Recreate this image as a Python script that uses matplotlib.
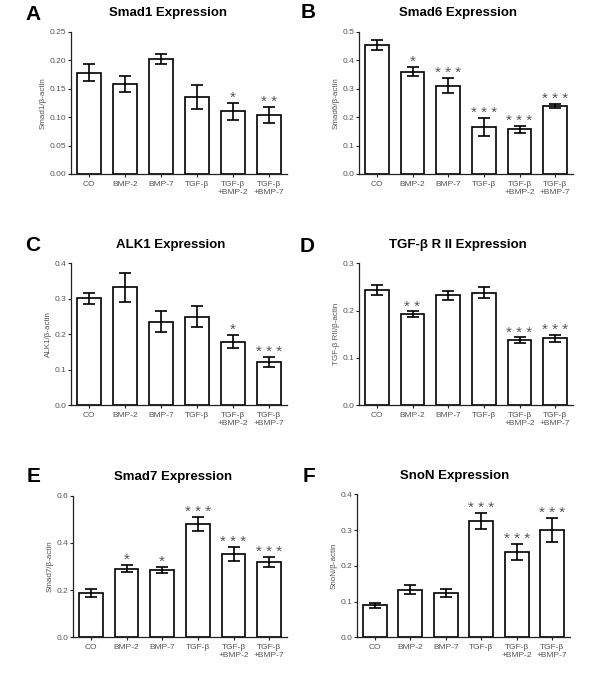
import matplotlib
matplotlib.use("Agg")
import matplotlib.pyplot as plt
import numpy as np

plt.rcParams['font.family'] = ['Liberation Sans', 'DejaVu Sans']

categories = ["CO", "BMP-2", "BMP-7", "TGF-β", "TGF-β\n+BMP-2", "TGF-β\n+BMP-7"]

smad1_mean = [0.178, 0.158, 0.202, 0.136, 0.110, 0.104]
smad1_err = [0.015, 0.014, 0.008, 0.021, 0.015, 0.014]
smad1_sig = ["", "", "", "", "*", "**"]

smad6_mean = [0.454, 0.360, 0.310, 0.165, 0.157, 0.238]
smad6_err = [0.017, 0.016, 0.026, 0.032, 0.013, 0.007]
smad6_sig = ["", "*", "***", "***", "***", "***"]

alk1_mean = [0.301, 0.332, 0.235, 0.249, 0.179, 0.122]
alk1_err = [0.015, 0.040, 0.029, 0.030, 0.019, 0.014]
alk1_sig = ["", "", "", "", "*", "***"]

tgfbr2_mean = [0.243, 0.192, 0.232, 0.238, 0.137, 0.141]
tgfbr2_err = [0.011, 0.006, 0.009, 0.012, 0.006, 0.008]
tgfbr2_sig = ["", "**", "", "", "***", "***"]

smad7_mean = [0.188, 0.291, 0.287, 0.479, 0.354, 0.320]
smad7_err = [0.016, 0.015, 0.013, 0.029, 0.030, 0.021]
smad7_sig = ["", "*", "*", "***", "***", "***"]

snon_mean = [0.089, 0.133, 0.125, 0.325, 0.239, 0.301]
snon_err = [0.006, 0.012, 0.011, 0.023, 0.022, 0.034]
snon_sig = ["", "", "", "***", "***", "***"]

panels = [
    dict(letter="A", title="Smad1 Expression", ylabel="Smad1/β-actin",
         mean=smad1_mean, err=smad1_err, sig=smad1_sig,
         ymax=0.25, yticks=[0.0, 0.05, 0.10, 0.15, 0.20, 0.25], fmt="{:.2f}",
         rect_px=(71, 31.7, 287, 174), title_x=0.449, letter_px=(33, 14)),
    dict(letter="B", title="Smad6 Expression", ylabel="Smad6/β-actin",
         mean=smad6_mean, err=smad6_err, sig=smad6_sig,
         ymax=0.5, yticks=[0.0, 0.1, 0.2, 0.3, 0.4, 0.5], fmt="{:.1f}",
         rect_px=(359, 31.7, 573, 174), title_x=0.463, letter_px=(308, 13)),
    dict(letter="C", title="ALK1 Expression", ylabel="ALK1/β-actin",
         mean=alk1_mean, err=alk1_err, sig=alk1_sig,
         ymax=0.4, yticks=[0.0, 0.1, 0.2, 0.3, 0.4], fmt="{:.1f}",
         rect_px=(71, 263.3, 287, 405), title_x=0.463, letter_px=(33, 245)),
    dict(letter="D", title="TGF-β R II Expression", ylabel="TGF-β RII/β-actin",
         mean=tgfbr2_mean, err=tgfbr2_err, sig=tgfbr2_sig,
         ymax=0.3, yticks=[0.0, 0.1, 0.2, 0.3], fmt="{:.1f}",
         rect_px=(359, 263.3, 573, 405), title_x=0.463, letter_px=(307, 246.5)),
    dict(letter="E", title="Smad7 Expression", ylabel="Smad7/β-actin",
         mean=smad7_mean, err=smad7_err, sig=smad7_sig,
         ymax=0.6, yticks=[0.0, 0.2, 0.4, 0.6], fmt="{:.1f}",
         rect_px=(73, 495.7, 287, 637.3), title_x=0.467, letter_px=(34, 476.5)),
    dict(letter="F", title="SnoN Expression", ylabel="SnoN/β-actin",
         mean=snon_mean, err=snon_err, sig=snon_sig,
         ymax=0.4, yticks=[0.0, 0.1, 0.2, 0.3, 0.4], fmt="{:.1f}",
         rect_px=(357, 494.3, 570, 637.3), title_x=0.46, letter_px=(309, 476)),
]

W, H = 600, 697
fig = plt.figure(figsize=(W / 100, H / 100), dpi=100)
fig.patch.set_facecolor("white")

gray = "#555555"
x = np.arange(len(categories))

for p in panels:
    l, t, r, b = p["rect_px"]
    ax = fig.add_axes([l / W, 1 - b / H, (r - l) / W, (b - t) / H])
    ax.bar(x, p["mean"], width=0.67, color="white", edgecolor="black",
           linewidth=1.2, zorder=2)
    ax.errorbar(x, p["mean"], yerr=p["err"], fmt="none", ecolor="black",
                elinewidth=1.2, capsize=4.3, capthick=1.2, zorder=3)
    for xi, m, e, s in zip(x, p["mean"], p["err"], p["sig"]):
        if s:
            ax.annotate(" ".join(s), (xi, m + e), xytext=(0, -1.5),
                        textcoords="offset points", ha="center", va="bottom",
                        fontsize=11, color=gray)
    ax.set_xlim(-0.5, 5.5)
    ax.set_ylim(0, p["ymax"])
    ax.set_yticks(p["yticks"])
    ax.set_yticklabels([p["fmt"].format(v) for v in p["yticks"]])
    ax.set_xticks(x)
    ax.set_xticklabels(categories, linespacing=1.15)
    ax.tick_params(axis="y", direction="out", length=2.5, width=0.8, pad=0.8,
                   labelsize=6, labelcolor=gray, color="#222222")
    ax.tick_params(axis="x", direction="out", length=2, width=0.8, pad=3,
                   labelsize=6, labelcolor=gray, color="#222222")
    for side in ("top", "right"):
        ax.spines[side].set_visible(False)
    for side in ("left", "bottom"):
        ax.spines[side].set_linewidth(0.9)
        ax.spines[side].set_color("#222222")
    ax.set_ylabel(p["ylabel"], fontsize=5.8, color=gray, labelpad=2)
    ax.annotate(p["title"], (p["title_x"], 1), xycoords="axes fraction",
                xytext=(0, 13.3), textcoords="offset points",
                ha="center", va="center", fontsize=9.5, fontweight="bold",
                color="black")
    lx, ly = p["letter_px"]
    fig.text(lx / W, 1 - ly / H, p["letter"], ha="center", va="center",
             fontsize=15, fontweight="bold", color="black")

fig.savefig("out.png", dpi=100, facecolor="white")
